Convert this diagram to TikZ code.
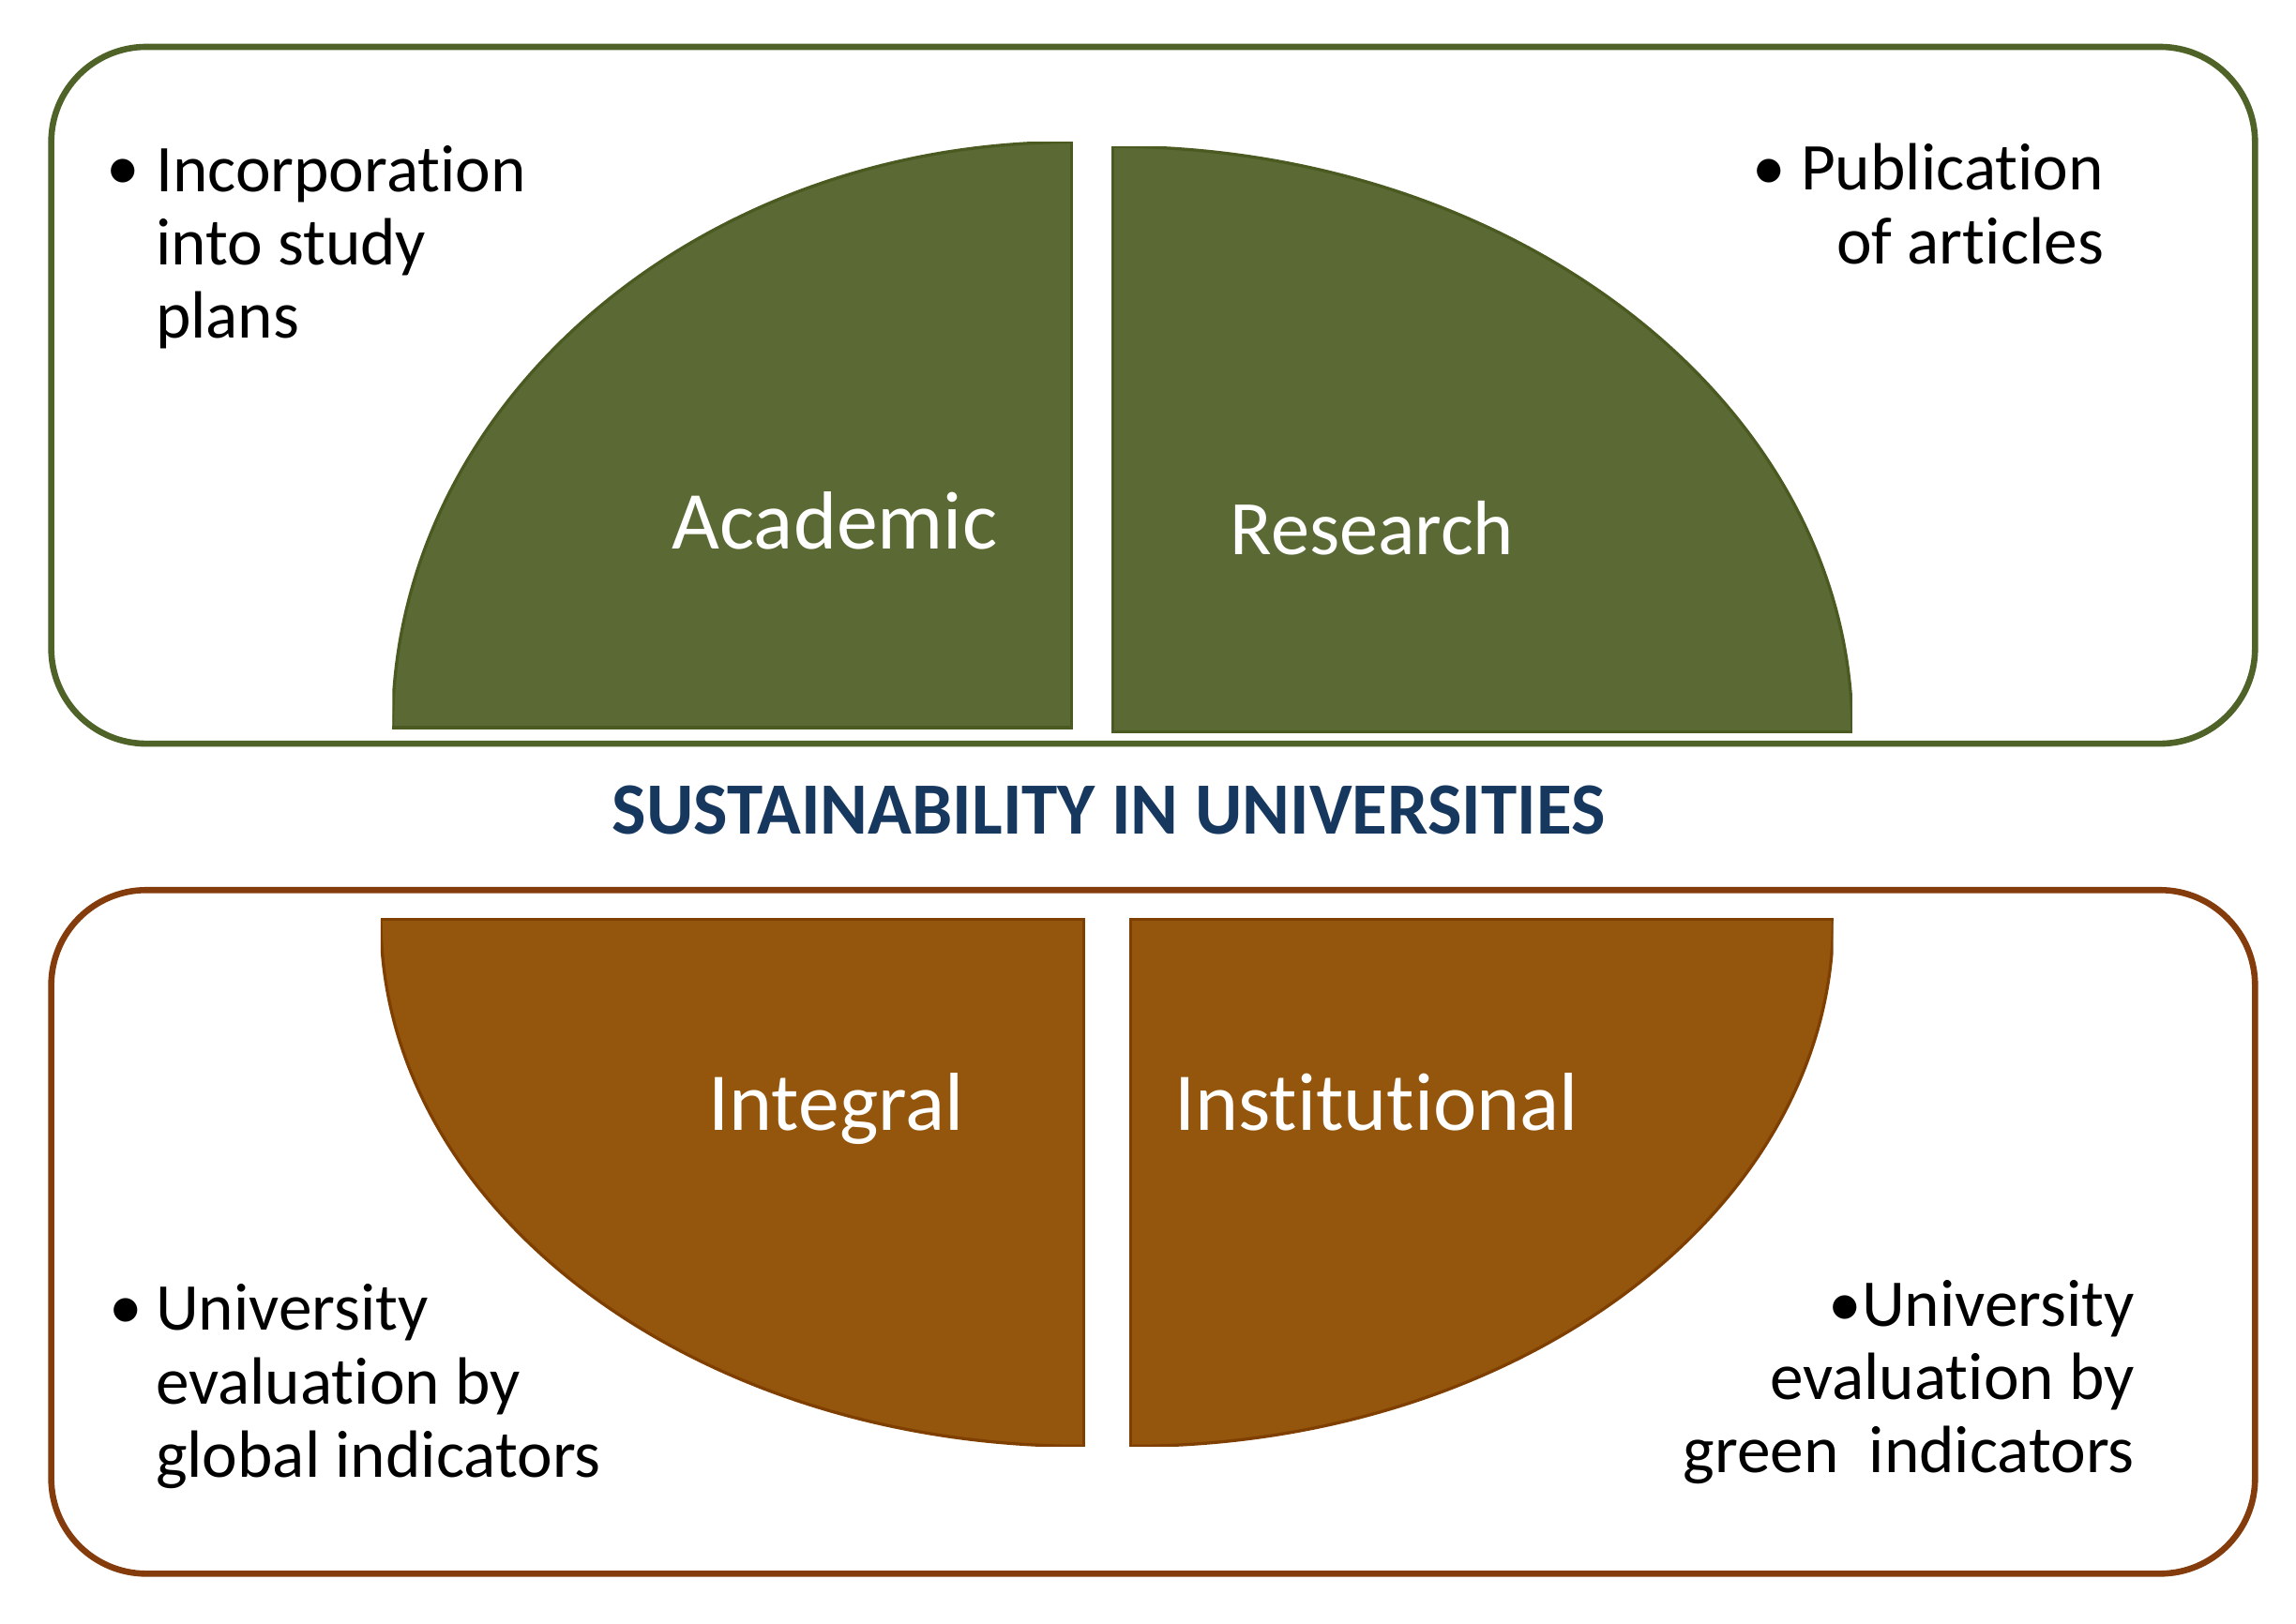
\documentclass[tikz,border=0pt]{standalone}
\usepackage{fontspec}
\setmainfont[RawFeature={-liga;-clig;-dlig}]{Carlito}
\usepackage{graphicx}
\newcommand{\tkern}{\kern0pt\relax}
\definecolor{boxgreen}{RGB}{79,98,40}
\definecolor{fillgreen}{RGB}{91,106,53}
\definecolor{edgegreen}{RGB}{74,90,32}
\definecolor{boxbrown}{RGB}{132,60,12}
\definecolor{fillbrown}{RGB}{148,86,13}
\definecolor{edgebrown}{RGB}{127,63,0}
\definecolor{titleblue}{RGB}{22,55,94}
\tikzset{
  frame/.style={line width=2.4pt, rounded corners=1.3cm},
  bodytext/.style={inner sep=0pt, font=\fontsize{26pt}{28.5pt}\selectfont, text=black},
  parttext/.style={inner sep=0pt, anchor=base, text=white, font=\fontsize{32pt}{36pt}\selectfont},
}
\begin{document}
\begin{tikzpicture}[x=0.02cm,y=-0.02cm]
\useasboundingbox (0,0) rectangle (1568,1109);
\fill[white] (0,0) rectangle (1568,1109);

% ---------- top box ----------
\draw[frame, boxgreen] (35,32) rectangle (1540,508);

% Academic quarter
\begin{scope}
  \clip (268,97) rectangle (732,497);
  \fill[fillgreen] (732,497) ellipse [x radius=9.28cm, y radius=8cm];
  \draw[edgegreen, line width=1.2pt] (732,497) ellipse [x radius=9.28cm, y radius=8cm];
\end{scope}
\draw[edgegreen, line width=1.2pt] (268,497) -- (732,497) -- (732,97);

% Research quarter
\begin{scope}
  \clip (760,100) rectangle (1265,500);
  \fill[fillgreen] (760,500) ellipse [x radius=10.1cm, y radius=8cm];
  \draw[edgegreen, line width=1.2pt] (760,500) ellipse [x radius=10.1cm, y radius=8cm];
\end{scope}
\draw[edgegreen, line width=1.2pt] (1265,500) -- (760,500) -- (760,100);

\node[parttext] (academic) at (570,375) {Academic};
\node[parttext, font=\fontsize{30pt}{34pt}\selectfont] (research) at (937,379) {Research};

\node[bodytext, anchor=base] (b1) at (84,130) {\textbullet};
\node[bodytext, anchor=base west, align=left] (t1) at (106,231) {Incorporat\tkern ion\\into study\\plans};
\node[bodytext, anchor=base east, align=right] (t2) at (1437,180) {\textbullet\ Publicat\tkern ion\\of art\tkern icles};

% ---------- title ----------
\node[inner sep=0pt, text=titleblue] (title) at (757,553.5)
  {\resizebox{13.56cm}{0.66cm}{\bfseries SUSTAINABILITY IN UNIVERSITIES}};

% ---------- bottom box ----------
\draw[frame, boxbrown] (35,608) rectangle (1540,1075);

% Integral quarter
\begin{scope}
  \clip (260,628) rectangle (740,988);
  \fill[fillbrown] (740,628) ellipse [x radius=9.6cm, y radius=7.2cm];
  \draw[edgebrown, line width=1.2pt] (740,628) ellipse [x radius=9.6cm, y radius=7.2cm];
\end{scope}
\draw[edgebrown, line width=1.2pt] (260,628) -- (740,628) -- (740,988);

% Institutional quarter
\begin{scope}
  \clip (772,628) rectangle (1252,988);
  \fill[fillbrown] (772,628) ellipse [x radius=9.6cm, y radius=7.2cm];
  \draw[edgebrown, line width=1.2pt] (772,628) ellipse [x radius=9.6cm, y radius=7.2cm];
\end{scope}
\draw[edgebrown, line width=1.2pt] (1252,628) -- (772,628) -- (772,988);

\node[parttext] (integral) at (571,772) {Integral};
\node[parttext] (institutional) at (940,772) {Inst\tkern it\tkern ut\tkern ional};

\node[bodytext, anchor=base] (b3) at (86,908) {\textbullet};
\node[bodytext, anchor=base west, align=left] (t3) at (106,1009) {University\\evaluat\tkern ion by\\global indicators};
\node[bodytext, anchor=base east, align=right] (t4) at (1458,1006) {\textbullet University\\evaluat\tkern ion by\\green\ \ indicators};
\end{tikzpicture}
\end{document}
